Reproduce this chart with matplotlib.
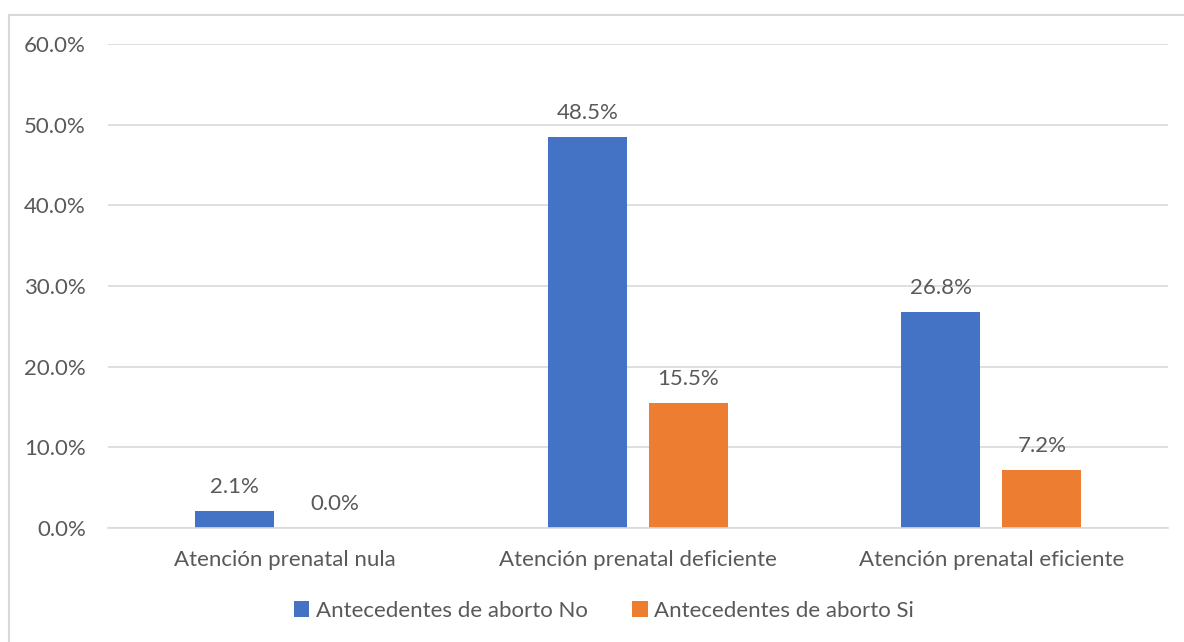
import matplotlib.pyplot as plt
from matplotlib.patches import Rectangle
import numpy as np

categories = ["Atención prenatal nula", "Atención prenatal deficiente", "Atención prenatal eficiente"]
serie_no = [2.1, 48.5, 26.8]
serie_si = [0.0, 15.5, 7.2]
series_names = ["Antecedentes de aborto No", "Antecedentes de aborto Si"]
yticks = [0, 10, 20, 30, 40, 50, 60]

plt.rcParams['font.family'] = ['Lato', 'DejaVu Sans']
text_color = "#595959"
fs = 16

W, H = 1184, 642
fig = plt.figure(figsize=(W / 100, H / 100), dpi=100)

# chart frame (runs past the right and bottom edges like the reference)
fig.patches.append(Rectangle((9 / W, -0.05), 1.1, 1 - 15 / H + 0.05, transform=fig.transFigure,
                             fill=False, edgecolor="#D9D9D9", linewidth=1.5))

ax = fig.add_axes([108 / W, 1 - 528 / H, (1168 - 108) / W, (528 - 44) / H])

x = np.arange(len(categories))
width = 0.224
off = 0.143
b1 = ax.bar(x - off, serie_no, width, color="#4472C4", label=series_names[0])
b2 = ax.bar(x + off, serie_si, width, color="#ED7D31", label=series_names[1])

for bars, vals in [(b1, serie_no), (b2, serie_si)]:
    for rect, v in zip(bars, vals):
        ax.annotate(f"{v:.1f}%", (rect.get_x() + rect.get_width() / 2, v),
                    xytext=(0, 10), textcoords="offset points", ha="center", va="bottom",
                    fontsize=fs, color=text_color)

ax.set_xlim(-0.5, 2.5)
ax.set_ylim(0, 60)
ax.set_yticks(yticks)
ax.set_yticklabels([f"{t:.1f}%" for t in yticks])
ax.set_xticks(x)
ax.set_xticklabels(categories)
ax.tick_params(axis="both", length=0, labelsize=fs, colors=text_color)
ax.tick_params(axis="y", pad=16)
ax.tick_params(axis="x", pad=16)
ax.grid(axis="y", color="#D9D9D9", linewidth=1.2)
ax.set_axisbelow(True)
for s in ["top", "right", "left"]:
    ax.spines[s].set_visible(False)
ax.spines["bottom"].set_color("#D9D9D9")
ax.spines["bottom"].set_linewidth(1.2)

fig.legend(handles=[b1, b2], loc="center", bbox_to_anchor=(0.51, 1 - 611 / H), ncol=2,
           frameon=False, fontsize=fs, labelcolor=text_color, handlelength=0.7,
           handleheight=0.7, handletextpad=0.3, columnspacing=2.0)

fig.savefig("out.png", dpi=100)
